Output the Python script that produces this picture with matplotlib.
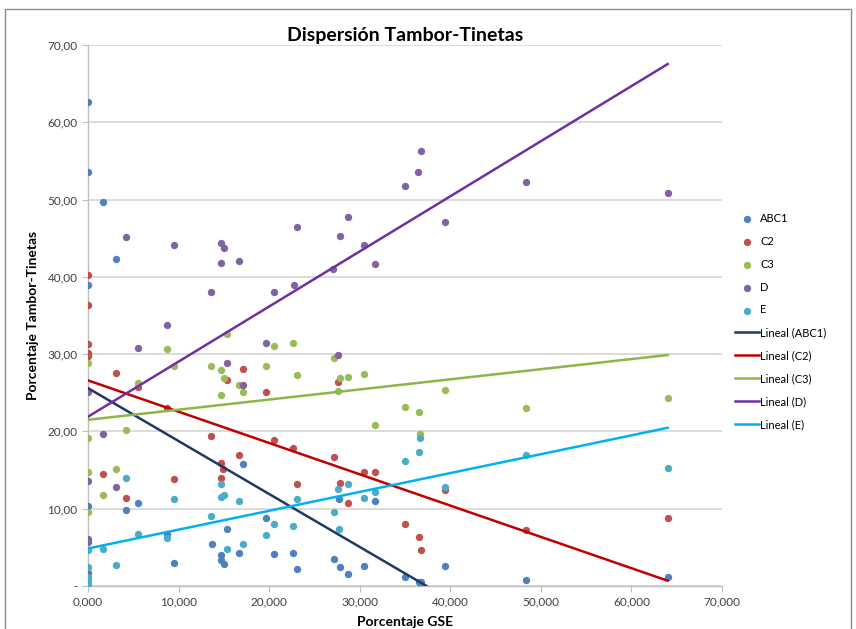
import matplotlib.pyplot as plt
from matplotlib.patches import Rectangle
import numpy as np

plt.rcParams['font.family'] = ['Lato', 'DejaVu Sans']

# puntos (x = porcentaje GSE, y = porcentaje tambor-tinetas)
abc1_x = [0, 0, 1700, 3100, 0, 0, 4200, 5500, 8700, 9500, 17100, 15400, 13700, 14700, 14700,
          15000, 16700, 19600, 20500, 22600, 23100, 27200, 27800, 28700, 30500, 27700, 31700,
          35000, 36500, 36800, 39400, 48400, 64000]
abc1_y = [62.6, 53.5, 49.7, 42.3, 38.9, 10.3, 9.8, 10.7, 6.7, 2.95, 15.8, 7.4, 5.4, 4.0, 3.3,
          2.9, 4.3, 8.8, 4.1, 4.3, 2.25, 3.5, 2.5, 1.6, 2.55, 11.2, 11.0,
          1.17, 0.5, 0.5, 2.55, 0.74, 1.1]

c2_x = [0, 0, 0, 0, 0, 3100, 5500, 1700, 4200, 9500, 8700, 17100, 15400, 19600, 13600, 20500,
        22600, 16700, 14700, 14900, 14700, 23100, 27200, 27600, 27800, 28700, 30500, 31700,
        35000, 36500, 36800, 39400, 48400, 64000]
c2_y = [40.3, 36.4, 31.3, 30.1, 29.75, 27.5, 25.8, 14.5, 11.4, 13.8, 23.0, 28.1, 26.6, 25.1, 19.35, 18.9,
        17.9, 16.9, 15.85, 15.2, 14.0, 13.2, 16.7, 26.4, 13.3, 10.75, 14.8, 14.7,
        8.0, 6.35, 4.7, 12.4, 7.3, 8.8]

c3_x = [0, 0, 0, 0, 1700, 3100, 4200, 5500, 8700, 9500, 15400, 20500, 22600, 13600, 14700, 15000,
        16700, 17100, 14700, 19600, 23100, 27200, 27800, 28700, 30500, 27600, 31700, 35000,
        36500, 36700, 39400, 48400, 64000]
c3_y = [28.9, 19.1, 14.8, 9.6, 11.75, 15.1, 20.2, 26.3, 30.7, 28.5, 32.6, 31.1, 31.4, 28.5, 28.0, 26.9,
        26.0, 25.05, 24.7, 28.5, 27.25, 29.5, 26.9, 27.1, 27.4, 25.2, 20.8, 23.2,
        22.5, 19.7, 25.4, 23.06, 24.3]

d_x = [4200, 9500, 14700, 15000, 14700, 16700, 13600, 20500, 22700, 23100, 8750, 27100, 27800,
       28700, 30500, 31700, 35000, 36400, 36800, 39400, 48400, 64000, 0, 1700, 5500, 19600,
       15400, 17100, 0, 3100, 0, 0, 27600, 0]
d_y = [45.1, 44.1, 44.4, 43.7, 41.8, 42.1, 38.1, 38.1, 38.9, 46.4, 33.8, 41.0, 45.3,
       47.7, 44.1, 41.6, 51.8, 53.5, 56.3, 47.1, 52.3, 50.9, 25.1, 19.65, 30.75, 31.4,
       28.9, 26.0, 13.55, 12.8, 6.1, 5.7, 29.9, 1.7]

e_x = [4200, 9500, 5500, 8700, 0, 1700, 3100, 0, 0, 0, 0, 14700, 14700, 15000, 16700, 13600,
       20500, 19600, 22600, 23100, 15400, 17100, 27200, 27600, 28700, 27700, 30500, 31700,
       35000, 36500, 36700, 39400, 48400, 64000]
e_y = [13.95, 11.3, 6.7, 6.25, 4.6, 4.75, 2.7, 2.45, 1.2, 0.75, 0.3, 13.2, 11.5, 11.75, 11.05, 9.1,
       8.0, 6.65, 7.8, 11.3, 4.75, 5.4, 9.55, 12.5, 13.2, 7.35, 11.4, 12.1,
       16.2, 17.3, 19.2, 12.8, 17.0, 15.25]

series_names = ['ABC1', 'C2', 'C3', 'D', 'E']
series_x = [abc1_x, c2_x, c3_x, d_x, e_x]
series_y = [abc1_y, c2_y, c3_y, d_y, e_y]

# lineas de tendencia: intercepto y pendiente
trend_intercept = [25.6, 26.6, 21.5, 21.9, 4.85]
trend_slope = [-0.000685, -0.000405, 0.000131, 0.000713, 0.000244]
trend_x_max = 64000

point_colors = ['#4F81BD', '#C0504D', '#9BBB59', '#8064A2', '#4BACC6']
line_colors = ['#1F3864', '#C00000', '#8DB646', '#7030A0', '#00B0F0']

fig = plt.figure(figsize=(8.56, 6.29), dpi=100)
ax = fig.add_axes([0.1028, 0.0684, 0.7407, 0.8601])

fig.patches.append(Rectangle((0.006, -0.02), 0.988, 1.006, transform=fig.transFigure,
                             fill=False, edgecolor='#8c8c8c', linewidth=1.0))

handles = []
for name, xs, ys, col in zip(series_names, series_x, series_y, point_colors):
    h = ax.scatter(xs, ys, s=28, color=col, label=name, zorder=3, linewidths=0)
    handles.append(h)

for name, b, m, col in zip(series_names, trend_intercept, trend_slope, line_colors):
    tx = np.array([0, trend_x_max])
    ty = b + m * tx
    if ty[1] < 0:
        tx[1] = -b / m
        ty[1] = 0
    h, = ax.plot(tx, ty, color=col, linewidth=1.8, label='Lineal (%s)' % name, zorder=4)
    handles.append(h)

ax.set_xlim(0, 70000)
ax.set_ylim(0, 70)
ax.set_xticks(np.arange(0, 70001, 10000))
ax.set_xticklabels(['{:,.3f}'.format(v / 1000).replace('.', ',') for v in range(0, 70001, 10000)])
yt = np.arange(0, 71, 10)
ax.set_yticks(yt)
ax.set_yticklabels(['-' if v == 0 else '%d,00' % v for v in yt])

ax.yaxis.grid(True, color='#d9d9d9', linewidth=1.3)
ax.set_axisbelow(True)
for s in ['top', 'right']:
    ax.spines[s].set_visible(False)
for s in ['left', 'bottom']:
    ax.spines[s].set_color('#bfbfbf')
    ax.spines[s].set_linewidth(1.0)
ax.tick_params(axis='both', colors='#bfbfbf', labelcolor='#404040', labelsize=8.5, length=4)

ax.set_title('Dispersión Tambor-Tinetas', fontsize=14, fontweight='bold', pad=3)
ax.set_xlabel('Porcentaje GSE', fontsize=10, fontweight='bold', labelpad=6)
ax.set_ylabel('Porcentaje Tambor-Tinetas', fontsize=10, fontweight='bold', labelpad=6)

leg = fig.legend(handles=handles, loc='center left', bbox_to_anchor=(0.8585, 0.489),
                 frameon=False, fontsize=8, labelspacing=1.07, handlelength=2.2,
                 handletextpad=0.1, scatterpoints=1, borderaxespad=0, borderpad=0)

fig.savefig('out.png', dpi=100)
